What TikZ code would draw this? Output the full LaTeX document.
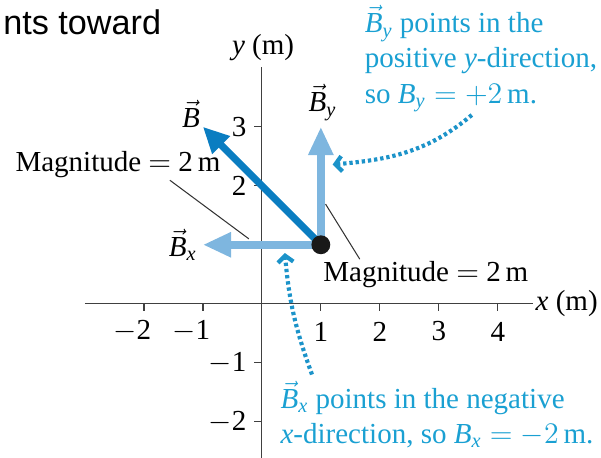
\documentclass[tikz,border=0pt]{standalone}
\usepackage{amsmath}
\usepackage{fontspec}
\setmainfont{Liberation Serif}
\newfontfamily\slidefont{Liberation Sans}
\usetikzlibrary{arrows.meta,positioning,calc}
\definecolor{vecdark}{HTML}{0A7DC1}
\definecolor{veclight}{HTML}{7EB6DF}
\definecolor{notecyan}{HTML}{1AA0D2}
\definecolor{dotblue}{HTML}{1C93C9}
\newcommand{\vB}{\vec{\mathit{B}}}
\tikzset{
  axisline/.style={draw=black!75,line width=0.6pt},
  tickmark/.style={draw=black!75,line width=0.6pt},
  ticklabel/.style={inner sep=1pt},
  mainvec/.style={vecdark,line width=3.4pt,-{Triangle[length=4.4mm,width=4.0mm]}},
  compvec/.style={veclight,line width=3.9pt,-{Triangle[length=4.8mm,width=4.0mm]}},
  dotnode/.style={circle,fill=black!90,inner sep=0pt,minimum size=0.32cm},
  veclabel/.style={inner sep=1pt},
  maglabel/.style={inner sep=1pt},
  leader/.style={draw=black!80,line width=0.5pt},
  notetext/.style={text=notecyan,align=left,inner sep=0pt},
  dotcurve/.style={dotblue,line width=2pt,dash pattern=on 1.6pt off 1.4pt,
    -{Straight Barb[length=1.1mm,width=2.6mm]}}
}

\begin{document}
\begin{tikzpicture}[font=\fontsize{14}{17}\selectfont]
  \useasboundingbox (-4.44,-2.61) rectangle (5.75,5.15);
  \node[anchor=base west,font=\slidefont\fontsize{16.5}{19}\selectfont,inner sep=0pt] (slidetext) at (-4.39,4.56) {nts toward};
  % axes
  \draw[axisline] (-3,0) -- (4.6,0) coordinate (xend);
  \draw[axisline] (0,-2.61) -- (0,4.02) coordinate (yend);
  \node[anchor=west,inner sep=1pt] (xlab) at (xend) {$\mathit{x}$ (m)};
  \node[anchor=base] (ylab) at (0.02,4.22) {$\mathit{y}$ (m)};
  \foreach \x/\t in {-2/{\llap{$-$}2},-1/{\llap{$-$}1},1/1,2/2,3/3,4/4}{
    \draw[tickmark] (\x,0) -- (\x,-0.13);
    \node[ticklabel] at (\x,-0.47) {\t};
  }
  \foreach \y/\t in {3/3,2/2,-1/{$-$1},-2/{$-$2}}{
    \draw[tickmark] (0,\y) -- (-0.13,\y);
    \node[ticklabel,anchor=east] at (-0.22,\y) {\t};
  }
  % vectors
  \coordinate (Pc) at (1,1);
  \coordinate (Btip) at (-1,3);
  \coordinate (Bxtip) at (-1,1);
  \coordinate (Bytip) at (1,3);
  \draw[compvec] (Pc) -- (Bxtip);
  \draw[compvec] (Pc) -- (Bytip);
  \draw[mainvec] (Pc) -- (Btip);
  \node[dotnode] (P) at (Pc) {};
  \node[veclabel] (Blab) at (-1.2,3.22) {$\vB$};
  \node[veclabel] (Bylab) at (1.03,3.41) {$\vB_{\mathit{y}}$};
  \node[veclabel] (Bxlab) at (-1.34,1.0) {$\vB_{\mathit{x}}$};
  % magnitudes
  \node[maglabel] (magleft) at (-2.44,2.36) {Magnitude $=$ 2\,m};
  \coordinate (magleftend) at (-0.22,1.1);
  \draw[leader] ([xshift=0.88cm]magleft.south) -- (magleftend);
  \node[maglabel] (magright) at (2.78,0.49) {Magnitude $=$ 2\,m};
  \coordinate (magrightend) at (1.08,1.69);
  \draw[leader] ([xshift=-1.12cm]magright.north) -- (magrightend);
  % notes
  \node[notetext,anchor=north west] (ynote) at (1.74,5.07)
    {$\vB_{\mathit{y}}$ points in the\\positive \textit{y}-direction,\\so $\mathit{B}_{\mathit{y}} = +2$\,m.};
  \node[notetext,anchor=north west] (xnote) at (0.31,-1.30)
    {$\vB_{\mathit{x}}$ points in the negative\\\textit{x}-direction, so $\mathit{B}_{\mathit{x}} = -2$\,m.};
  \coordinate (ydotstart) at (3.56,3.20);
  \coordinate (ydottip) at (1.20,2.36);
  \draw[dotcurve] (ydotstart) to[out=-140,in=5] (ydottip);
  \coordinate (xdotstart) at (0.85,-1.20);
  \coordinate (xdottip) at (0.39,0.86);
  \draw[dotcurve] (xdotstart) to[out=110,in=-85] (xdottip);
\end{tikzpicture}
\end{document}
